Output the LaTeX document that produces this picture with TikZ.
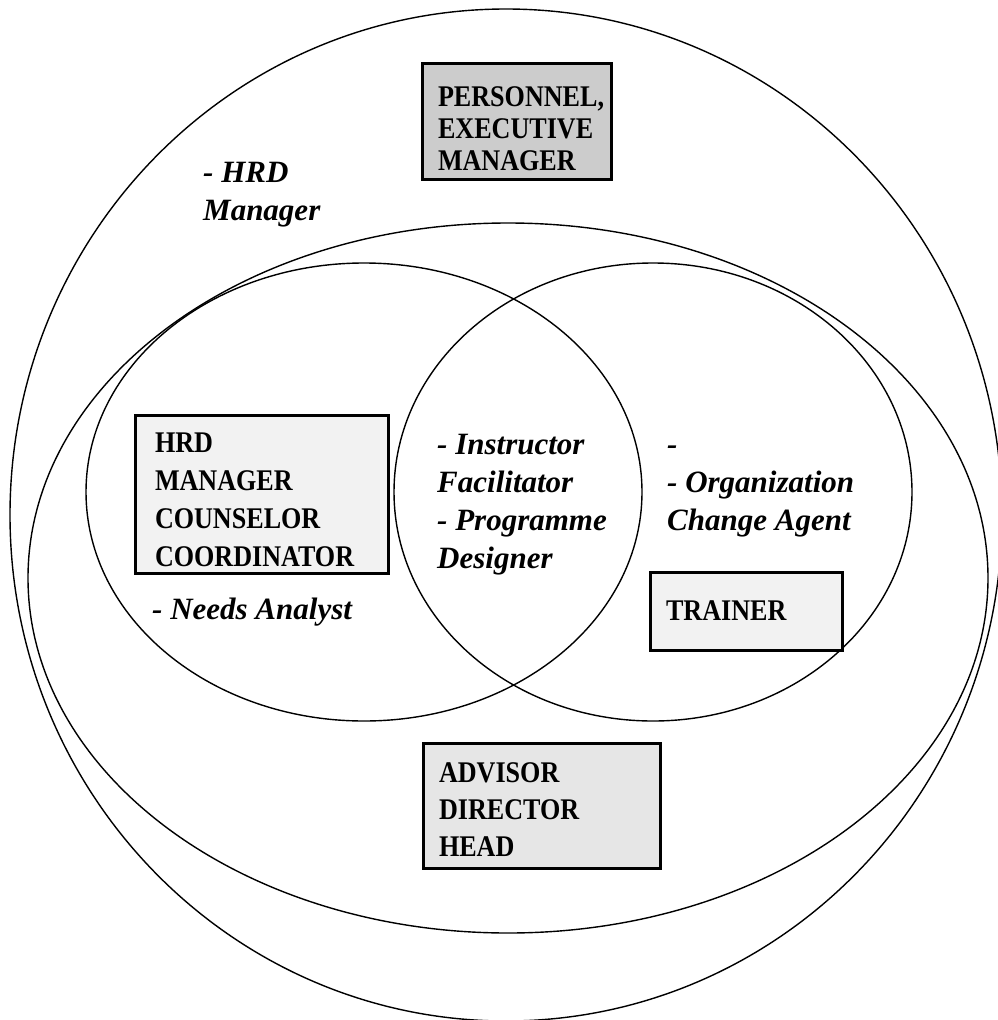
\documentclass[tikz,border=0pt]{standalone}
\usepackage{fontspec}
\setmainfont{Liberation Serif}
\newfontfamily\boxfont{Liberation Serif}[FakeStretch=0.87]
\usepackage{xcolor}
\usepackage{tikz}

\definecolor{boxdark}{HTML}{CCCCCC}
\definecolor{boxmid}{HTML}{E6E6E6}
\definecolor{boxlight}{HTML}{F2F2F2}

\begin{document}
\begin{tikzpicture}[x=1pt, y=-1pt,
    ring/.style={line width=1.4pt},
    rolebox/.style={draw, line width=3pt, inner xsep=16pt, inner ysep=0pt, align=left,
        font=\boxfont\bfseries\fontsize{30}{37}\selectfont},
    rolelabel/.style={anchor=north west, inner sep=0pt, align=left,
        font=\bfseries\itshape\fontsize{31}{38}\selectfont}]
    \useasboundingbox (0,0) rectangle (998,1020);

    % Draw the nested ellipses
    \draw[ring] (506,515) ellipse [x radius=496, y radius=506];
    \draw[ring] (508,578) ellipse [x radius=480, y radius=355];
    \draw[ring] (364,492) ellipse [x radius=278, y radius=229];
    \draw[ring] (653,492) ellipse [x radius=259, y radius=229];

    % Boxes with the job titles
    \node[rolebox, fill=boxdark, text width=157pt, minimum height=116pt, text height=36pt,
        font=\boxfont\bfseries\fontsize{30}{32}\selectfont]
        (personnel) at (516.5,121) {PERSONNEL,\\EXECUTIVE\\MANAGER};
    \node[rolebox, fill=boxlight, inner xsep=20pt, text width=213pt, minimum height=158pt,
        text height=32pt, font=\boxfont\bfseries\fontsize{30}{38}\selectfont]
        (hrdbox) at (261.5,494) {HRD\\MANAGER\\COUNSELOR\\COORDINATOR};
    \node[rolebox, fill=boxlight, text width=160pt, minimum height=78pt]
        (trainer) at (746,611) {TRAINER};
    \node[rolebox, fill=boxmid, text width=205pt, minimum height=125pt, text height=29pt]
        (advisor) at (541.5,805.5) {ADVISOR\\DIRECTOR\\HEAD};

    % Roles in italics
    \node[rolelabel] (hrdrole) at (203,156) {\strut- HRD\\Manager};
    \node[rolelabel] (instructor) at (437,428) {\strut- Instructor\\Facilitator\\- Programme\\Designer};
    \node[rolelabel] (orgagent) at (667,428) {\strut-\\- Organization\\Change Agent};
    \node[rolelabel] (needs) at (152,593) {\strut- Needs Analyst};
\end{tikzpicture}
\end{document}
